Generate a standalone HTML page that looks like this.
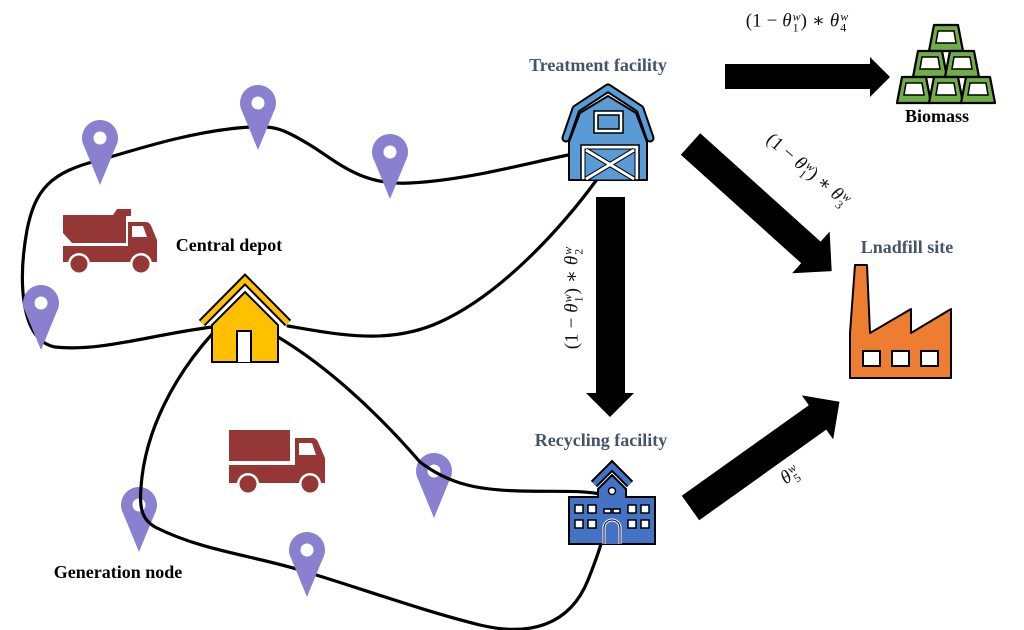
<!DOCTYPE html>
<html><head><meta charset="utf-8"><style>
html,body{margin:0;padding:0;background:#fff;}
#c{position:relative;width:1024px;height:630px;overflow:hidden;background:#fff;}
svg{position:absolute;left:0;top:0;}
.t{position:absolute;font-family:"Liberation Serif",serif;font-weight:bold;font-size:18px;white-space:nowrap;transform:translate(-50%,-50%);line-height:1;color:#000;}
.s{color:#44546A;}
.m{position:absolute;font-family:"Liberation Serif","DejaVu Serif",serif;font-size:19px;white-space:nowrap;line-height:1;color:#111;}
.m i{font-style:italic;}
.ss{display:inline-block;position:relative;width:9px;height:0;vertical-align:baseline;}
.ss .sp{position:absolute;left:1px;top:-16px;font-size:12px;line-height:12px;font-style:italic;}
.ss .sb{position:absolute;left:1px;top:-5px;font-size:12px;line-height:12px;}
.op{margin:0 5px;}
</style></head><body><div id="c">
<svg width="1024" height="630" viewBox="0 0 1024 630">
<!-- pins under lines -->
<g fill="#8A80D0">
<path d="M139,552 L123.4,514 A18 18 0 1 1 154.6,514 Z"/>
<path d="M434,518 L418.4,480 A18 18 0 1 1 449.6,480 Z"/>
</g>
<circle cx="139" cy="505" r="6.5" fill="#fff"/>
<circle cx="434" cy="471" r="6.5" fill="#fff"/>

<!-- route lines -->
<g fill="none" stroke="#000" stroke-width="3.2" stroke-linecap="round">
<path d="M583,152 C530,162 470,180 410,183 C360,186 335,160 310,145 C285,130 275,125 250,127 C200,130 150,145 100,160 C50,172 35,190 27,230 C18,280 20,340 55,347 C100,352 150,335 212,327"/>
<path d="M288,326 C340,335 390,345 440,322 C500,295 560,230 598,178"/>
<path d="M213,333 C175,375 145,430 141,487 C139,510 143,520 155,527 C200,550 250,555 300,570 C360,588 420,610 480,625 C530,637 570,625 588,580 C598,555 603,540 606,522"/>
<path d="M278,337 C325,365 375,410 420,462 C450,485 480,490 520,491 C560,492 580,490 600,494"/>
</g>

<!-- pins over lines -->
<g fill="#8A80D0">
<path d="M100,185 L84.4,147 A18 18 0 1 1 115.6,147 Z"/>
<path d="M258,150 L242.4,112 A18 18 0 1 1 273.6,112 Z"/>
<path d="M390,199 L374.4,161 A18 18 0 1 1 405.6,161 Z"/>
<path d="M41,350 L25.4,312 A18 18 0 1 1 56.6,312 Z"/>
<path d="M307,597 L291.4,559 A18 18 0 1 1 322.6,559 Z"/>
</g>
<g fill="#fff">
<circle cx="100" cy="138" r="6.5"/>
<circle cx="258" cy="103" r="6.5"/>
<circle cx="390" cy="152" r="6.5"/>
<circle cx="41" cy="303" r="6.5"/>
<circle cx="307" cy="550" r="6.5"/>
</g>

<!-- dump truck -->
<g fill="#953735">
<path d="M63,215 L113,215 L117,209 L131,209 L131,216 L126,216 L126,243 L72,243 L63,233 Z"/>
<path d="M128,222 L146,222 Q150,222 152,228 L157,240 L157,246 L128,246 Z"/>
<rect x="63" y="246" width="94" height="16"/>
<circle cx="79" cy="264" r="11" fill="#fff"/>
<circle cx="141" cy="264" r="11" fill="#fff"/>
<circle cx="79" cy="264" r="8.5"/>
<circle cx="141" cy="264" r="8.5"/>
</g>
<path d="M132,226 L143,226 L147,237 L132,237 Z" fill="#fff"/>

<!-- box truck -->
<g fill="#953735">
<rect x="229" y="430" width="61" height="31"/>
<path d="M295,438 L313,438 Q316,438 318,442 L325,458 L325,466 L295,466 Z"/>
<rect x="229" y="465" width="96" height="18"/>
<circle cx="248" cy="484" r="11" fill="#fff"/>
<circle cx="310" cy="484" r="11" fill="#fff"/>
<circle cx="248" cy="484" r="8.5"/>
<circle cx="310" cy="484" r="8.5"/>
</g>
<path d="M299,443 L312,443 L316,455 L299,455 Z" fill="#fff"/>

<!-- central depot house -->
<polyline points="202,323 245,279.5 288,323" fill="none" stroke="#000" stroke-width="9" stroke-linejoin="miter"/>
<polyline points="202,323 245,279.5 288,323" fill="none" stroke="#FFC000" stroke-width="5" stroke-linejoin="miter"/>
<path d="M212,362 L212,325 L245,292 L278,325 L278,362 Z" fill="#FFC000" stroke="#000" stroke-width="2"/>
<path d="M237,362 L237,331 L251,331 L251,362" fill="#fff" stroke="#000" stroke-width="2"/>

<!-- barn (treatment) -->
<polyline points="566,138 576,109 608,88 640,109 650,138" fill="none" stroke="#000" stroke-width="9" stroke-linejoin="round" stroke-linecap="round"/>
<polyline points="566,138 576,109 608,88 640,109 650,138" fill="none" stroke="#5B9BD5" stroke-width="5" stroke-linejoin="round" stroke-linecap="round"/>
<path d="M569,180 L569,142 L580,113 L608,96 L636,113 L647,142 L647,180 Z" fill="#5B9BD5" stroke="#000" stroke-width="2" stroke-linejoin="round"/>
<rect x="594" y="111" width="29" height="22" fill="#fff" stroke="#000" stroke-width="1.5"/>
<rect x="598" y="115" width="21" height="14" fill="#5B9BD5" stroke="#000" stroke-width="1.5"/>
<rect x="581" y="145" width="58" height="35" fill="#fff" stroke="#000" stroke-width="1.5"/>
<rect x="585" y="149" width="50" height="31" fill="#5B9BD5" stroke="#000" stroke-width="1"/>
<path d="M586,150 L634,179 M634,150 L586,179" stroke="#000" stroke-width="5"/>
<path d="M586,150 L634,179 M634,150 L586,179" stroke="#fff" stroke-width="3"/>

<!-- school (recycling) -->
<polyline points="594,484 612,466 630,484" fill="none" stroke="#000" stroke-width="9"/>
<polyline points="594,484 612,466 630,484" fill="none" stroke="#4472C4" stroke-width="5"/>
<path d="M569,544 L569,497 L598,497 L598,489 L612,475 L626,489 L626,497 L655,497 L655,544 Z" fill="#4472C4" stroke="#000" stroke-width="2"/>
<circle cx="612" cy="491" r="3.5" fill="#fff" stroke="#000" stroke-width="1.5"/>
<g fill="#fff" stroke="#000" stroke-width="1.5">
<rect x="575" y="505" width="8" height="8"/><rect x="588" y="505" width="8" height="8"/>
<rect x="575" y="520" width="8" height="8"/><rect x="588" y="520" width="8" height="8"/>
<rect x="628" y="505" width="8" height="8"/><rect x="641" y="505" width="8" height="8"/>
<rect x="628" y="520" width="8" height="8"/><rect x="641" y="520" width="8" height="8"/>
<rect x="604" y="509" width="7" height="4"/><rect x="613" y="509" width="7" height="4"/>
</g>
<path d="M604,544 L604,528 A8 8 0 0 1 620,528 L620,544" fill="#4472C4" stroke="#fff" stroke-width="3"/>
<path d="M604,544 L604,528 A8 8 0 0 1 620,528 L620,544" fill="none" stroke="#000" stroke-width="1"/>

<!-- factory (landfill) -->
<path d="M850,378 L850,333 L855,265 L867,265 L870,333 L911,309 L911,333 L951,309 L951,378 Z" fill="#ED7D31" stroke="#000" stroke-width="2" stroke-linejoin="round"/>
<g fill="#fff" stroke="#000" stroke-width="2">
<rect x="863" y="351" width="17" height="15"/>
<rect x="892" y="351" width="17" height="15"/>
<rect x="921" y="351" width="17" height="15"/>
</g>

<!-- biomass pyramid -->
<g fill="#70AD47" stroke="#000" stroke-width="2.2" stroke-linejoin="round">
<path d="M934,25 L958,25 L963,51 L929,51 Z"/>
<path d="M918,51 L942,51 L947,77 L913,77 Z"/>
<path d="M950,51 L974,51 L979,77 L945,77 Z"/>
<path d="M902,77 L926,77 L931,103 L897,103 Z"/>
<path d="M934,77 L958,77 L963,103 L929,103 Z"/>
<path d="M966,77 L990,77 L995,103 L961,103 Z"/>
</g>
<g fill="#fff" stroke="#000" stroke-width="1.5">
<path d="M938,31 L954,31 L956,43 L936,43 Z"/>
<path d="M922,57 L938,57 L940,69 L920,69 Z"/>
<path d="M954,57 L970,57 L972,69 L952,69 Z"/>
<path d="M906,83 L922,83 L924,95 L904,95 Z"/>
<path d="M938,83 L954,83 L956,95 L936,95 Z"/>
<path d="M970,83 L986,83 L988,95 L968,95 Z"/>
</g>

<!-- flow arrows -->
<g fill="#000">
<polygon points="725,64 870,64 870,57 890,77 870,97 870,89 725,89"/>
<polygon points="596,197 625,197 625,393 634,393 610,417 586,393 596,393"/>
<g transform="translate(690.5,144) rotate(42)"><polygon points="0,-14.5 162,-14.5 162,-28 190,0 162,28 162,14.5 0,14.5"/></g>
<g transform="translate(690.5,508) rotate(-35.5)"><polygon points="0,-15 156,-15 156,-27 183,0 156,27 156,15 0,15"/></g>
</g>
</svg>

<div class="t s" style="left:598px;top:65px;">Treatment facility</div>
<div class="t" style="left:937px;top:116px;">Biomass</div>
<div class="t s" style="left:907px;top:247px;">Lnadfill site</div>
<div class="t s" style="left:601px;top:440px;">Recycling facility</div>
<div class="t" style="left:229px;top:245px;">Central depot</div>
<div class="t" style="left:118px;top:572px;">Generation node</div>

<div class="m" style="left:797px;top:21px;transform:translate(-50%,-50%);">(1<span class="op">−</span><i>θ</i><span class="ss"><span class="sp">w</span><span class="sb">1</span></span>)<span class="op">∗</span><i>θ</i><span class="ss"><span class="sp">w</span><span class="sb">4</span></span></div>
<div class="m" style="left:808px;top:170px;transform:translate(-50%,-50%) rotate(40deg);">(1<span class="op">−</span><i>θ</i><span class="ss"><span class="sp">w</span><span class="sb">1</span></span>)<span class="op">∗</span><i>θ</i><span class="ss"><span class="sp">w</span><span class="sb">3</span></span></div>
<div class="m" style="left:572px;top:298px;transform:translate(-50%,-50%) rotate(-90deg);">(1<span class="op">−</span><i>θ</i><span class="ss"><span class="sp">w</span><span class="sb">1</span></span>)<span class="op">∗</span><i>θ</i><span class="ss"><span class="sp">w</span><span class="sb">2</span></span></div>
<div class="m" style="left:790px;top:475px;transform:translate(-50%,-50%) rotate(-35deg);"><i>θ</i><span class="ss"><span class="sp">w</span><span class="sb">5</span></span></div>
</div></body></html>
